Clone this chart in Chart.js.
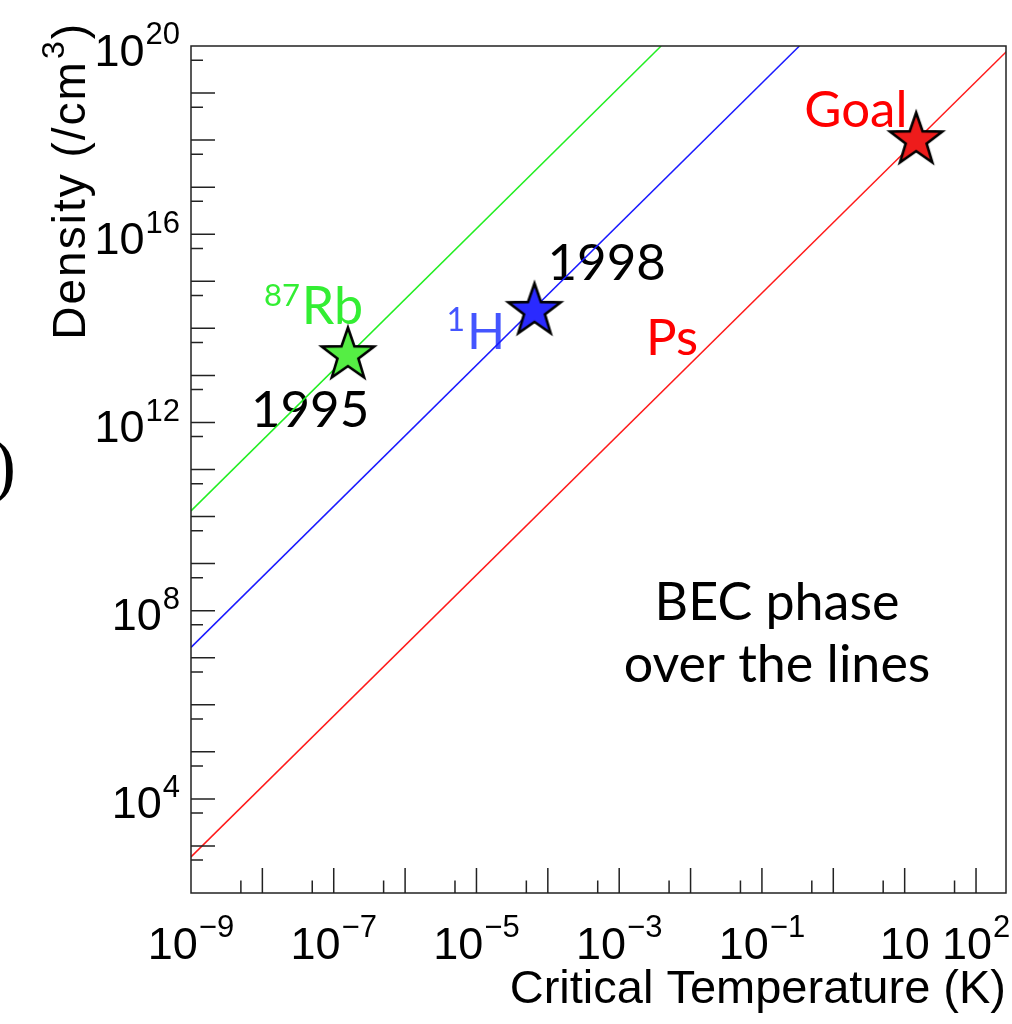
<!DOCTYPE html>
<html><head><meta charset="utf-8">
<script src="https://cdn.jsdelivr.net/npm/chart.js@4.4.0/dist/chart.umd.min.js"></script>
<style>html,body{margin:0;padding:0;background:#fff;overflow:hidden;}canvas{display:block;}</style>
</head><body>
<canvas id="c" width="1012" height="1024" style="width:1012px;height:1024px"></canvas>
<script>
// ---- data ----
const xTickValues = [1e-9, 1e-7, 1e-5, 1e-3, 1e-1, 10, 100];
const xTickLabels = ['10^\u22129', '10^\u22127', '10^\u22125', '10^\u22123', '10^\u22121', '10', '10^2'];
const yTickValues = [1e4, 1e8, 1e12, 1e16, 1e20];
const yTickLabels = ['10^4', '10^8', '10^12', '10^16', '10^20'];
const rbLineT = [1e-9, 3.87e-3];
const rbLineN = [1.32e10, 1e20];
const hLineT = [1e-9, 3.35e-1];
const hLineN = [1.66e7, 1e20];
const psLineT = [1e-9, 3.2e2];
const psLineN = [5.85e2, 1e20];
const starNames = ['87Rb', '1H', 'Goal'];
const starT = [1.58e-7, 6.5e-5, 14.5];
const starN = [2.7e13, 2.35e14, 1.0e18];
const starYears = ['1995', '1998', ''];

const AX = 'Liberation Sans, Arial, sans-serif';
const AN = 'Lato, Open Sans, sans-serif';

function pts(T, N) { return T.map((t, i) => ({x: t, y: N[i]})); }

function makeStar(fill) {
  const R = 27.5, r = R * 0.4, s = 66;
  const c = document.createElement('canvas'); c.width = s; c.height = s;
  const g = c.getContext('2d');
  g.translate(s / 2, s / 2);
  g.beginPath();
  for (let i = 0; i < 10; i++) {
    const rad = i % 2 === 0 ? R : r;
    const a = -Math.PI / 2 + i * Math.PI / 5;
    const px = rad * Math.cos(a), py = rad * Math.sin(a);
    if (i === 0) g.moveTo(px, py); else g.lineTo(px, py);
  }
  g.closePath();
  g.fillStyle = fill; g.fill();
  g.lineWidth = 2.6; g.lineJoin = 'miter'; g.strokeStyle = '#000'; g.stroke();
  return c;
}
const starFills = ['#55ee44', '#2a2aff', '#ee1c1c'];

function drawPow(ctx, label, x, y, align, F, font) {
  const parts = label.split('^');
  const base = parts[0], exp = parts[1];
  const fs = Math.round(F * 0.7);
  ctx.font = F + 'px ' + font; const wb = ctx.measureText(base).width;
  let we = 0;
  if (exp) { ctx.font = fs + 'px ' + font; we = ctx.measureText(exp).width; }
  const gap = exp ? 1 : 0;
  const total = wb + gap + we;
  const x0 = align === 'center' ? x - total / 2 : (align === 'right' ? x - total : x);
  ctx.textAlign = 'left'; ctx.textBaseline = 'alphabetic';
  ctx.font = F + 'px ' + font; ctx.fillText(base, x0, y);
  if (exp) { ctx.font = fs + 'px ' + font; ctx.fillText(exp, x0 + wb + gap, y - F * 0.47); }
}
function drawPreSup(ctx, sup, base, x, y, F, fs, raise, font) {
  ctx.textAlign = 'left'; ctx.textBaseline = 'alphabetic';
  ctx.font = fs + 'px ' + font; const ws = ctx.measureText(sup).width;
  ctx.fillText(sup, x, y - raise);
  ctx.font = F + 'px ' + font; ctx.fillText(base, x + ws + 2, y);
}

const framePlugin = {
  id: 'frame',
  beforeDatasetsDraw(chart) {
    const ctx = chart.ctx, xs = chart.scales.x, ys = chart.scales.y, ca = chart.chartArea;
    ctx.save();
    const sp = starT.map((t, i) => ({x: xs.getPixelForValue(t), y: ys.getPixelForValue(starN[i])}));
    ctx.fillStyle = '#000';
    ctx.font = '51px ' + AN; ctx.textAlign = 'left'; ctx.textBaseline = 'alphabetic';
    ctx.fillText(starYears[0], sp[0].x - 97, sp[0].y + 72);
    ctx.fillText(starYears[1], sp[1].x + 13, sp[1].y - 31);
    ctx.fillStyle = '#33ee33';
    drawPreSup(ctx, '87', 'Rb', sp[0].x - 84, sp[0].y - 31, 52, 31, 18, AN);
    ctx.fillStyle = '#4455ff';
    drawPreSup(ctx, '1', 'H', sp[1].x - 88, sp[1].y + 38, 50, 32, 18, AN);
    ctx.fillStyle = '#ff0000';
    ctx.font = '51px ' + AN;
    ctx.fillText(starNames[2], sp[2].x - 112, sp[2].y - 13);
    ctx.fillText('Ps', ca.left + 455, ca.top + 309);
    ctx.fillStyle = '#000';
    ctx.textAlign = 'center';
    ctx.font = '52px ' + AN;
    ctx.fillText('BEC phase', ca.left + 586, ca.top + 574);
    ctx.fillText('over the lines', ca.left + 586, ca.top + 636);
    ctx.restore();
  },
  afterDraw(chart) {
    const ctx = chart.ctx, xs = chart.scales.x, ys = chart.scales.y, ca = chart.chartArea;
    ctx.save();
    ctx.strokeStyle = '#222'; ctx.lineWidth = 1.5;
    ctx.strokeRect(ca.left, ca.top, ca.right - ca.left, ca.bottom - ca.top);
    ctx.beginPath();
    for (let e = -9; e <= 3; e++) {
      [[1, 25], [5, 12.5]].forEach(([m, len]) => {
        const v = m * Math.pow(10, e);
        if (v < xs.min * 0.999 || v > xs.max) return;
        const px = xs.getPixelForValue(v);
        if (px <= ca.left + 1 || px >= ca.right - 1) return;
        ctx.moveTo(px, ca.bottom); ctx.lineTo(px, ca.bottom - len);
      });
    }
    for (let e = 2; e <= 20; e++) {
      [[1, 24], [5, 12]].forEach(([m, len]) => {
        const v = m * Math.pow(10, e);
        if (v < ys.min * 0.999 || v > ys.max) return;
        const py = ys.getPixelForValue(v);
        if (py <= ca.top + 1 || py >= ca.bottom - 1) return;
        ctx.moveTo(ca.left, py); ctx.lineTo(ca.left + len, py);
      });
    }
    ctx.stroke();
    ctx.fillStyle = '#000';
    xTickValues.forEach((v, i) => drawPow(ctx, xTickLabels[i], xs.getPixelForValue(v), ca.bottom + 65.5, 'center', 45, AX));
    yTickValues.forEach((v, i) => drawPow(ctx, yTickLabels[i], ca.left - 11, ys.getPixelForValue(v) + 19.5, 'right', 45, AX));
    ctx.font = '47px ' + AX; ctx.textAlign = 'right'; ctx.textBaseline = 'alphabetic';
    ctx.fillText('Critical Temperature (K)', ca.right, 1003);
    ctx.save();
    ctx.translate(85, 22); ctx.rotate(-Math.PI / 2);
    ctx.letterSpacing = '2px';
    ctx.font = '46px ' + AX;
    const wClose = ctx.measureText(')').width;
    const wMain = ctx.measureText('Density (/cm').width;
    ctx.font = '32px ' + AX;
    const wSup = ctx.measureText('3').width;
    let x0 = -(wMain + wSup + wClose + 1);
    ctx.textAlign = 'left';
    ctx.font = '46px ' + AX; ctx.fillText('Density (/cm', x0, 0);
    ctx.font = '32px ' + AX; ctx.fillText('3', x0 + wMain + 1, -21);
    ctx.font = '46px ' + AX; ctx.fillText(')', x0 + wMain + wSup + 1, 0);
    ctx.restore();
    ctx.font = '72px Liberation Serif, serif'; ctx.textAlign = 'right';
    ctx.fillText(')', 16, 489);
    ctx.restore();
  }
};

new Chart(document.getElementById('c'), {
  type: 'scatter',
  data: {
    datasets: [
      {label: 'Rb', data: pts(rbLineT, rbLineN), showLine: true, borderColor: '#22ee22', borderWidth: 1.5, pointRadius: 0, order: 3},
      {label: 'H', data: pts(hLineT, hLineN), showLine: true, borderColor: '#1a1aff', borderWidth: 1.5, pointRadius: 0, order: 3},
      {label: 'Ps', data: pts(psLineT, psLineN), showLine: true, borderColor: '#ff1a1a', borderWidth: 1.5, pointRadius: 0, order: 3},
      {label: 'stars', data: pts(starT, starN), showLine: false, pointRadius: 10,
       pointStyle: starFills.map(makeStar), order: 1}
    ]
  },
  options: {
    responsive: false, animation: false, devicePixelRatio: 1,
    layout: {autoPadding: false, padding: {left: 191, right: 6, top: 46, bottom: 131}},
    plugins: {legend: {display: false}, tooltip: {enabled: false}},
    scales: {
      x: {type: 'logarithmic', min: 1e-9, max: 263, display: false},
      y: {type: 'logarithmic', min: 1e2, max: 1e20, display: false}
    }
  },
  plugins: [framePlugin, {id: 'bg', beforeDraw(c) { const g = c.ctx; g.save(); g.fillStyle = '#fff'; g.fillRect(0, 0, c.width, c.height); g.restore(); }}]
});
</script>
</body></html>
